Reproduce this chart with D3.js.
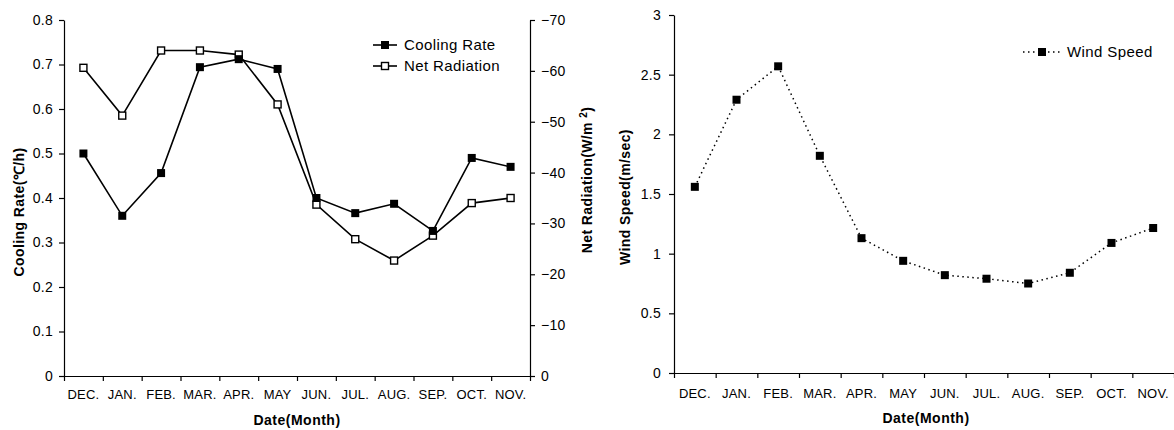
<!DOCTYPE html>
<html>
<head>
<meta charset="utf-8">
<script src="https://cdnjs.cloudflare.com/ajax/libs/d3/7.8.5/d3.min.js"></script>
<style>
  body { margin: 0; background: #fff; }
  svg { font-family: "Liberation Sans", Arial, sans-serif; }
  .tick text { font-size: 14px; fill: #000; letter-spacing: 0.3px; }
  .xlab .tick text { font-size: 13px; letter-spacing: 0.2px; }
  .domain, .tick line { stroke: #000; stroke-width: 1.2; }
</style>
</head>
<body>
<div id="chart"></div>
<script>
// Data
var months = ["DEC.", "JAN.", "FEB.", "MAR.", "APR.", "MAY", "JUN.", "JUL.", "AUG.", "SEP.", "OCT.", "NOV."];
var coolingRate = [0.50, 0.36, 0.456, 0.694, 0.712, 0.69, 0.40, 0.366, 0.387, 0.326, 0.49, 0.47];
var netRadiation = [-60.6, -51.2, -64.0, -64.0, -63.2, -53.4, -33.7, -26.9, -22.7, -27.6, -34.0, -35.0];
var windSpeed = [1.56, 2.29, 2.57, 1.82, 1.13, 0.94, 0.82, 0.79, 0.75, 0.84, 1.09, 1.215];
var coolTicks = [0, 0.1, 0.2, 0.3, 0.4, 0.5, 0.6, 0.7, 0.8];
var radTicks = [0, -10, -20, -30, -40, -50, -60, -70];
var windTicks = [0, 0.5, 1, 1.5, 2, 2.5, 3];

var svg = d3.select("#chart").append("svg")
  .attr("width", 1174)
  .attr("height", 430);

var top_ = 20, bottom = 376;

// ---------- left chart ----------
var left = { x0: 64, x1: 530 };
var x = d3.scaleBand().domain(months).range([left.x0, left.x1]);
var yCool = d3.scaleLinear().domain([0, 0.8]).range([bottom, top_]);
var yRad = d3.scaleLinear().domain([0, -70]).range([bottom, top_]);
var xIdx = d3.scaleLinear().domain([0, 12]).range([left.x0, left.x1]);

// x axis: boundary ticks + centered labels
svg.append("g")
  .attr("transform", "translate(0," + bottom + ")")
  .call(d3.axisBottom(xIdx).tickValues(d3.range(13)).tickFormat("").tickSize(5).tickSizeOuter(0));
svg.append("g").attr("class", "xlab")
  .attr("transform", "translate(0," + bottom + ")")
  .call(d3.axisBottom(x).tickSize(0).tickPadding(14))
  .call(function (g) { g.select(".domain").remove(); });

svg.append("g")
  .attr("transform", "translate(" + left.x0 + ",0)")
  .call(d3.axisLeft(yCool).tickValues(coolTicks).tickSize(5).tickSizeOuter(0).tickPadding(6)
    .tickFormat(function (d) { return d === 0 ? "0" : d3.format(".1f")(d); }));

svg.append("g")
  .attr("transform", "translate(" + left.x1 + ",0)")
  .call(d3.axisRight(yRad).tickValues(radTicks).tickSize(5).tickSizeOuter(0).tickPadding(6)
    .tickFormat(function (d) { return d === 0 ? "0" : "\u2212" + Math.abs(d); }));

var lineCool = d3.line()
  .x(function (d, i) { return x(months[i]) + x.bandwidth() / 2; })
  .y(function (d) { return yCool(d); });
var lineRad = d3.line()
  .x(function (d, i) { return x(months[i]) + x.bandwidth() / 2; })
  .y(function (d) { return yRad(d); });

svg.append("path").datum(netRadiation)
  .attr("d", lineRad).attr("fill", "none").attr("stroke", "#000").attr("stroke-width", 1.6);
svg.append("path").datum(coolingRate)
  .attr("d", lineCool).attr("fill", "none").attr("stroke", "#000").attr("stroke-width", 1.6);

svg.selectAll(".radPt").data(netRadiation).enter().append("rect")
  .attr("x", function (d, i) { return x(months[i]) + x.bandwidth() / 2 - 3.5; })
  .attr("y", function (d) { return yRad(d) - 3.5; })
  .attr("width", 7).attr("height", 7)
  .attr("fill", "#fff").attr("stroke", "#000").attr("stroke-width", 1.4);
svg.selectAll(".coolPt").data(coolingRate).enter().append("rect")
  .attr("x", function (d, i) { return x(months[i]) + x.bandwidth() / 2 - 4; })
  .attr("y", function (d) { return yCool(d) - 4; })
  .attr("width", 8).attr("height", 8)
  .attr("fill", "#000");

// axis titles
svg.append("text")
  .attr("transform", "translate(24,212) rotate(-90)")
  .attr("text-anchor", "middle")
  .attr("font-size", 14).attr("font-weight", "bold").attr("letter-spacing", 0.4)
  .text("Cooling Rate(\u2103/h)");
var nr = svg.append("text")
  .attr("transform", "translate(592,180) rotate(-90)")
  .attr("text-anchor", "middle")
  .attr("font-size", 14).attr("font-weight", "bold").attr("letter-spacing", 0.4);
nr.append("tspan").text("Net Radiation(W/m ");
nr.append("tspan").attr("dy", -5).attr("font-size", 10).text("2");
nr.append("tspan").attr("dy", 5).text(")");
svg.append("text")
  .attr("x", (left.x0 + left.x1) / 2).attr("y", 425)
  .attr("text-anchor", "middle")
  .attr("font-size", 14).attr("font-weight", "bold").attr("letter-spacing", 0.5)
  .text("Date(Month)");

// legend
var lg = svg.append("g").attr("transform", "translate(373,45)");
lg.append("line").attr("x1", 0).attr("x2", 24).attr("y1", 0).attr("y2", 0).attr("stroke", "#000").attr("stroke-width", 1.6);
lg.append("rect").attr("x", 8).attr("y", -4).attr("width", 8).attr("height", 8).attr("fill", "#000");
lg.append("text").attr("x", 31).attr("y", 5).attr("font-size", 15).attr("letter-spacing", 0.4).text("Cooling Rate");
lg.append("line").attr("x1", 0).attr("x2", 24).attr("y1", 21).attr("y2", 21).attr("stroke", "#000").attr("stroke-width", 1.6);
lg.append("rect").attr("x", 8.5).attr("y", 17.5).attr("width", 7).attr("height", 7).attr("fill", "#fff").attr("stroke", "#000").attr("stroke-width", 1.4);
lg.append("text").attr("x", 31).attr("y", 26).attr("font-size", 15).attr("letter-spacing", 0.4).text("Net Radiation");

// ---------- right chart ----------
var right = { x0: 674, x1: 1174 };
var bottom2 = 373, top2 = 15;
var x2 = d3.scaleBand().domain(months).range([right.x0, right.x1]);
var x2Idx = d3.scaleLinear().domain([0, 12]).range([right.x0, right.x1]);
var yWind = d3.scaleLinear().domain([0, 3]).range([bottom2, top2]);

svg.append("g")
  .attr("transform", "translate(0," + bottom2 + ")")
  .call(d3.axisBottom(x2Idx).tickValues(d3.range(13)).tickFormat("").tickSize(5).tickSizeOuter(0));
svg.append("g").attr("class", "xlab")
  .attr("transform", "translate(0," + bottom2 + ")")
  .call(d3.axisBottom(x2).tickSize(0).tickPadding(16))
  .call(function (g) { g.select(".domain").remove(); });
svg.append("g")
  .attr("transform", "translate(" + right.x0 + ",0)")
  .call(d3.axisLeft(yWind).tickValues(windTicks).tickSize(5).tickSizeOuter(0).tickPadding(8)
    .tickFormat(function (d) { return String(d); }));

var lineWind = d3.line()
  .x(function (d, i) { return x2(months[i]) + x2.bandwidth() / 2; })
  .y(function (d) { return yWind(d); });
svg.append("path").datum(windSpeed)
  .attr("d", lineWind).attr("fill", "none").attr("stroke", "#000")
  .attr("stroke-width", 1.5).attr("stroke-dasharray", "1.5,3.5");
svg.selectAll(".windPt").data(windSpeed).enter().append("rect")
  .attr("x", function (d, i) { return x2(months[i]) + x2.bandwidth() / 2 - 4; })
  .attr("y", function (d) { return yWind(d) - 4; })
  .attr("width", 8).attr("height", 8)
  .attr("fill", "#000");

svg.append("text")
  .attr("transform", "translate(630,197) rotate(-90)")
  .attr("text-anchor", "middle")
  .attr("font-size", 14).attr("font-weight", "bold").attr("letter-spacing", 0.4)
  .text("Wind Speed(m/sec)");
svg.append("text")
  .attr("x", (right.x0 + right.x1) / 2 + 2).attr("y", 423)
  .attr("text-anchor", "middle")
  .attr("font-size", 14).attr("font-weight", "bold").attr("letter-spacing", 0.5)
  .text("Date(Month)");

var lg2 = svg.append("g").attr("transform", "translate(1023,52)");
lg2.append("line").attr("x1", 0).attr("x2", 38).attr("y1", 0).attr("y2", 0)
  .attr("stroke", "#000").attr("stroke-width", 1.5).attr("stroke-dasharray", "1.5,3.5");
lg2.append("rect").attr("x", 15).attr("y", -4).attr("width", 8).attr("height", 8).attr("fill", "#000");
lg2.append("text").attr("x", 44).attr("y", 5).attr("font-size", 15).attr("letter-spacing", 0.4).text("Wind Speed");
</script>
</body>
</html>
